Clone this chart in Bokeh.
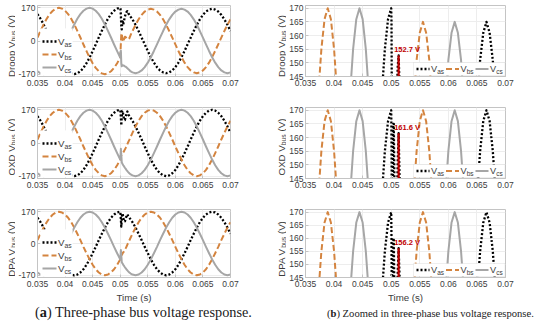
import math
from bokeh.plotting import figure
from bokeh.models import Range1d, FixedTicker, Label, Arrow, BoxAnnotation, Div
from bokeh.layouts import column, row
from bokeh.embed import file_html
from bokeh.resources import INLINE
from bokeh.core.properties import value

# ---------------- data ----------------
controllers = ["Droop", "OXD", "DPA"]
phases = ["as", "bs", "cs"]
x_ticks = [0.035, 0.04, 0.045, 0.05, 0.055, 0.06, 0.065, 0.07]
x_tick_labels = ["0.035", "0.04", "0.045", "0.05", "0.055", "0.06", "0.065", "0.07"]
y_ticks_full = [-170, 0, 170]
y_tick_labels_full = ["-170", "0", "170"]
y_ticks_zoom = [145, 150, 155, 160, 165, 170]
y_tick_labels_zoom = ["145", "150", "155", "160", "165", "170"]

# samples before the disturbance (time in ms, voltage in V)
t_pre_ms = [35.000, 35.556, 36.111, 36.667, 37.222, 37.778, 38.333, 38.889, 39.444,
            40.000, 40.556, 41.111, 41.667, 42.222, 42.778, 43.333, 43.889, 44.444,
            45.000, 45.556, 46.111, 46.667, 47.222, 47.778, 48.333, 48.889, 49.444,
            50.000]
vas_pre = [138, 114, 85, 52, 18, -18, -52, -85, -114,
           -138, -155, -166, -170, -166, -155, -138, -114, -85,
           -52, -18, 18, 52, 85, 114, 138, 155, 166,
           170]
vbs_pre = [18, 52, 85, 114, 138, 155, 166, 170, 166,
           155, 138, 114, 85, 52, 18, -18, -52, -85,
           -114, -138, -155, -166, -170, -166, -155, -138, -114,
           -85]
vcs_pre = [-155, -166, -170, -166, -155, -138, -114, -85, -52,
           -18, 18, 52, 85, 114, 138, 155, 166, 170,
           166, 155, 138, 114, 85, 52, 18, -18, -52,
           -85]

# samples during the disturbance
t_dist_ms = [50.05, 50.12, 50.20, 50.28, 50.36, 50.45, 50.55, 50.70, 50.85,
             51.00, 51.15, 51.30, 51.45, 51.65, 51.90]
droop_vas_dist = [165, 130, 75, 60, 90, 100, 85, 105, 125, 140, 149, 152.7, 142, 135, 124]
droop_vbs_dist = [-60, -10, 35, 40, 20, 0, -5, 10, 22, 20, 15, 10, 8, 14, 31]
droop_vcs_dist = [-55, -50, -115, -130, -126, -124, -125, -127, -130, -132, -135, -140, -144, -149, -156]
oxd_vas_dist = [160, 130, 90, 135, 165, 165, 145, 120, 118, 135, 152, 161.6, 146, 139, 128]
oxd_vbs_dist = [-82, -72, -62, -62, -58, -52, -48, -42, -33, -25, -16, -6, 4, 16, 32]
oxd_vcs_dist = [-70, -30, -60, -100, -104, -109, -114, -120, -127, -133, -139, -144, -149, -155, -161]
dpa_vas_dist = [160, 128, 90, 130, 160, 160, 140, 118, 118, 133, 148, 156.2, 146, 139, 128]
dpa_vbs_dist = [-82, -72, -63, -62, -58, -52, -48, -42, -33, -25, -16, -6, 4, 16, 32]
dpa_vcs_dist = [-70, -35, -65, -100, -104, -109, -114, -120, -127, -133, -139, -144, -149, -155, -161]

# samples after the disturbance
t_post_ms = [52.222, 52.778, 53.333, 53.889, 54.444,
             55.000, 55.556, 56.111, 56.667, 57.222, 57.778, 58.333, 58.889, 59.444,
             60.000, 60.556, 61.111, 61.667, 62.222, 62.778, 63.333, 63.889, 64.444,
             65.000, 65.556, 66.111, 66.667, 67.222, 67.778, 68.333, 68.889, 69.444,
             70.000]
vas_post = [114, 85, 52, 18, -18,
            -52, -85, -114, -138, -155, -166, -170, -166, -155,
            -138, -114, -85, -52, -18, 18, 52, 85, 114,
            138, 155, 166, 170, 166, 155, 138, 114, 85,
            52]
vbs_post = [52, 85, 114, 138, 155,
            166, 170, 166, 155, 138, 114, 85, 52, 18,
            -18, -52, -85, -114, -138, -155, -166, -170, -166,
            -155, -138, -114, -85, -52, -18, 18, 52, 85,
            114]
vcs_post = [-166, -170, -166, -155, -138,
            -114, -85, -52, -18, 18, 52, 85, 114, 138,
            155, 166, 170, 166, 155, 138, 114, 85, 52,
            18, -18, -52, -85, -114, -138, -155, -166, -170,
            -166]
droop_vas_post = [111, 83, 51, 17, -17,
                  -51, -83, -111, -134, -151, -161, -165, -161, -151,
                  -134, -111, -83, -51, -17, 17, 51, 83, 111,
                  134, 151, 161, 165, 161, 151, 134, 111, 83,
                  51]
droop_vbs_post = [51, 83, 111, 134, 151,
                  161, 165, 161, 151, 134, 111, 83, 51, 17,
                  -17, -51, -83, -111, -134, -151, -161, -165, -161,
                  -151, -134, -111, -83, -51, -17, 17, 51, 83,
                  111]
droop_vcs_post = [-161, -165, -161, -151, -134,
                  -111, -83, -51, -17, 17, 51, 83, 111, 134,
                  151, 161, 165, 161, 151, 134, 111, 83, 51,
                  17, -17, -51, -83, -111, -134, -151, -161, -165,
                  -161]

# recovered peak of V_as marked in the zoomed panels
peak_t_ms = 51.30
peak_values = [152.7, 161.6, 156.2]
peak_labels = ["152.7 V", "161.6 V", "156.2 V"]

dist = {
    "Droop": (droop_vas_dist, droop_vbs_dist, droop_vcs_dist),
    "OXD": (oxd_vas_dist, oxd_vbs_dist, oxd_vcs_dist),
    "DPA": (dpa_vas_dist, dpa_vbs_dist, dpa_vcs_dist),
}
post = {
    "Droop": (droop_vas_post, droop_vbs_post, droop_vcs_post),
    "OXD": (vas_post, vbs_post, vcs_post),
    "DPA": (vas_post, vbs_post, vcs_post),
}
pre = (vas_pre, vbs_pre, vcs_pre)
t_all = [v / 1000.0 for v in (t_pre_ms + t_dist_ms + t_post_ms)]

# ---------------- styles ----------------
FONT = "Liberation Sans"
AXC = "#c4c4c4"
TXT = "#3c3c3c"
GRID = "#ededed"
COLORS = ["#000000", "#D4843F", "#A6A6A6"]
DASHES = ["2 2", "6 3", "solid"]
WIDTHS = [2.3, 2.0, 2.0]
TICK_FS = "8.5px"
LAB_F = 9.7
SUB_F = 6.8
EM_MAIN = {"Droop": 3.668, "OXD": 3.112, "DPA": 3.001}
RED = "#C00000"


def legend_item(p, xs, ys, i, vfs, sfs, length):
    p.add_layout(Arrow(start=None, end=None, x_start=xs, y_start=ys, x_end=xs + length, y_end=ys,
                       start_units="screen", end_units="screen",
                       line_color=COLORS[i], line_width=WIDTHS[i], line_dash=DASHES[i]))
    xv = xs + length + 1.5
    p.add_layout(Label(x=xv, y=ys, x_units="screen", y_units="screen", text="V",
                       text_align="left", text_baseline="middle", text_font=FONT,
                       text_font_size=f"{vfs}px", text_color=TXT))
    p.add_layout(Label(x=xv + 0.667 * vfs, y=ys - 2.8, x_units="screen", y_units="screen",
                       text=phases[i], text_align="left", text_baseline="middle", text_font=FONT,
                       text_font_size=f"{sfs}px", text_color=TXT))


def make_gutter(ci, width, height, mbt, mbb, xb):
    """Narrow strip left of a panel carrying the rotated y-axis title (pixel-mapped ranges)."""
    ctrl = controllers[ci]
    fh = height - mbt - mbb
    g = figure(frame_width=width, frame_height=height,
               x_range=Range1d(0, width), y_range=Range1d(0, height),
               output_backend="svg", toolbar_location=None, x_axis_type=None, y_axis_type=None,
               min_border=0)
    g.outline_line_color = None
    g.background_fill_color = "white"
    w1 = EM_MAIN[ctrl] * LAB_F
    ws = 1.612 * SUB_F
    wsp = 0.278 * LAB_F
    L = w1 + ws + wsp + 1.333 * LAB_F
    y0 = mbb + fh / 2 - L / 2
    parts = [(xb, y0, f"{ctrl} V", LAB_F),
             (xb + 2.0, y0 + w1, "bus", SUB_F),
             (xb, y0 + w1 + ws + wsp, "(V)", LAB_F)]
    for (x, y, txt, fs) in parts:
        g.text(x=[x], y=[y], text=[txt], angle=math.pi / 2,
               text_align="left", text_baseline="alphabetic",
               text_font=value(FONT), text_font_size=value(f"{fs}px"), text_color=TXT)
    return g


def make_panel(ci, zoom, width, height, mbl, mbr, mbt, mbb, time_label):
    ctrl = controllers[ci]
    fw = width - mbl - mbr
    fh = height - mbt - mbb
    yr = Range1d(145, 171) if zoom else Range1d(-182, 182)
    p = figure(width=width, height=height, x_range=Range1d(0.035, 0.07), y_range=yr,
               output_backend="svg", toolbar_location=None,
               min_border_left=mbl, min_border_right=mbr,
               min_border_top=mbt, min_border_bottom=mbb)
    p.outline_line_color = AXC
    p.outline_line_width = 1
    p.xgrid.grid_line_color = GRID
    p.ygrid.grid_line_color = GRID
    p.xaxis.ticker = FixedTicker(ticks=x_ticks)
    p.xaxis.major_label_overrides = dict(zip(x_ticks, x_tick_labels))
    if zoom:
        p.yaxis.ticker = FixedTicker(ticks=y_ticks_zoom)
        p.yaxis.major_label_overrides = dict(zip(y_ticks_zoom, y_tick_labels_zoom))
    else:
        p.yaxis.ticker = FixedTicker(ticks=y_ticks_full)
        p.yaxis.major_label_overrides = dict(zip(y_ticks_full, y_tick_labels_full))
    for ax in (p.xaxis[0], p.yaxis[0]):
        ax.axis_line_color = AXC
        ax.major_tick_line_color = AXC
        ax.major_tick_in = 3
        ax.major_tick_out = 0
        ax.minor_tick_line_color = None
        ax.major_label_text_font = FONT
        ax.major_label_text_font_size = TICK_FS
        ax.major_label_text_color = TXT
    p.xaxis.major_label_standoff = 3
    p.yaxis.major_label_standoff = 2
    if time_label:
        p.xaxis.axis_label = "Time (s)"
        p.xaxis.axis_label_text_font = FONT
        p.xaxis.axis_label_text_font_size = f"{LAB_F}px"
        p.xaxis.axis_label_text_font_style = "normal"
        p.xaxis.axis_label_text_color = TXT
        p.xaxis.axis_label_standoff = 2

    for i in range(3):
        v = pre[i] + dist[ctrl][i] + post[ctrl][i]
        p.line(t_all, v, line_color=COLORS[i], line_width=WIDTHS[i], line_dash=DASHES[i],
               line_cap="butt", line_join="round")

    if zoom:
        pt = peak_t_ms / 1000.0
        p.segment(x0=[pt], y0=[y_ticks_zoom[0]], x1=[pt], y1=[peak_values[ci]],
                  line_color=RED, line_width=2.2)
        p.add_layout(Label(x=pt, y=peak_values[ci], x_offset=-4.5, y_offset=1,
                           text=peak_labels[ci], text_align="left", text_baseline="bottom",
                           text_font=FONT, text_font_style="bold", text_font_size="7.5px",
                           text_color=RED))
        bx0, bx1 = fw - 92, fw - 0.5
        p.add_layout(BoxAnnotation(left=bx0, right=bx1, bottom=1, top=14,
                                   left_units="screen", right_units="screen",
                                   top_units="screen", bottom_units="screen",
                                   fill_color="white", fill_alpha=1,
                                   line_color="#bdbdbd", line_width=0.8))
        for i in range(3):
            legend_item(p, bx0 + 3 + 29.5 * i, 7.5, i, 9.2, 6.5, 13)
    else:
        p.add_layout(BoxAnnotation(left=3, right=35, bottom=fh - 70, top=fh - 23,
                                   left_units="screen", right_units="screen",
                                   top_units="screen", bottom_units="screen",
                                   fill_color="white", fill_alpha=1,
                                   line_color="white", line_width=0.8))
        for i in range(3):
            legend_item(p, 5, fh - 36 - 13 * i, i, 9.7, 6.8, 14)
    return p


# row geometry: (height, min_border_top, min_border_bottom, show time label)
geo = [(103, 5, 27, False), (102, 4, 27, False), (100, 4, 25, True)]
rows = []
for ci in range(3):
    h, mbt, mbb, tl = geo[ci]
    g1 = make_gutter(ci, 15, h, mbt, mbb, 10.5)
    left = make_panel(ci, False, 256, h, 19, 41, mbt, mbb, tl)
    g2 = make_gutter(ci, 15, h, mbt, mbb, 10.0)
    right = make_panel(ci, True, 248, h, 19, 29, mbt, mbb, tl)
    rows.append(row(g1, left, g2, right))

cap_a = Div(text=('<div style="padding-left:35px;white-space:nowrap;'
                  'font-family:\'Liberation Serif\';font-size:14.3px;line-height:14px;color:#1a1a1a">'
                  '(<b>a</b>) Three-phase bus voltage response.</div>'),
            width=271, height=14, margin=0)
cap_b = Div(text=('<div style="padding-left:56px;white-space:nowrap;'
                  'font-family:\'Liberation Serif\';font-size:10.6px;line-height:12px;color:#1a1a1a">'
                  '(<b>b</b>) Zoomed in three-phase bus voltage response.</div>'),
            width=263, height=14, margin=0)
rows.append(row(cap_a, cap_b))

layout = column(*rows)
open("out.html", "w").write(file_html(layout, INLINE))
